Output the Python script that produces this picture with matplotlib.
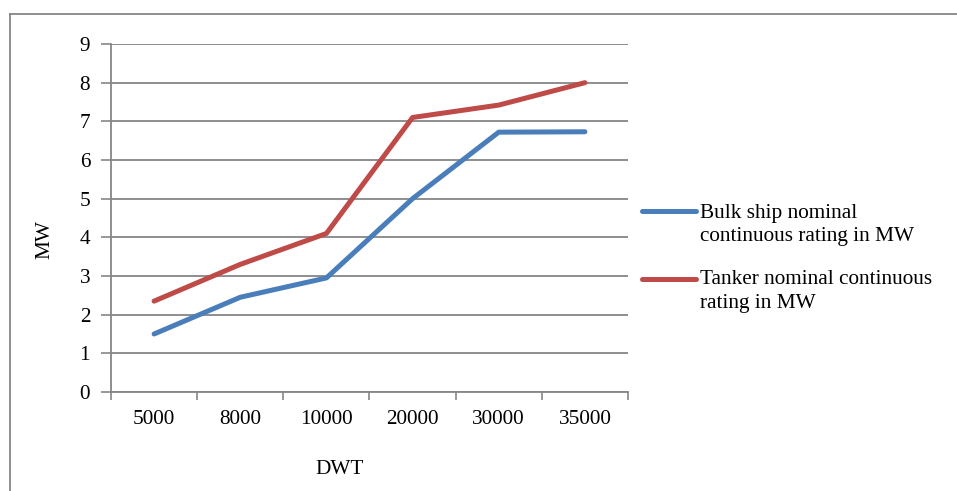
import matplotlib
matplotlib.use("Agg")
import matplotlib.pyplot as plt
from matplotlib.lines import Line2D
import numpy as np

plt.rcParams["font.family"] = ["Liberation Serif", "DejaVu Serif"]

categories = ["5000", "8000", "10000", "20000", "30000", "35000"]
bulk_mw = [1.5, 2.45, 2.95, 5.0, 6.72, 6.73]
tanker_mw = [2.35, 3.3, 4.1, 7.1, 7.42, 8.0]
series_labels = ["Bulk ship nominal\ncontinuous rating in MW",
                 "Tanker nominal continuous\nrating in MW"]
y_ticks = list(range(0, 10))

blue = "#4A7EBB"
red = "#BE4B48"
grid_gray = "#868686"
fs = 15.3

fig = plt.figure(figsize=(9.57, 4.91), dpi=100)
W, H = 957, 491
ax = fig.add_axes([111 / W, 1 - 392 / H, (628 - 111) / W, (392 - 44) / H])

x = np.arange(len(categories))
for vals, col in ((bulk_mw, blue), (tanker_mw, red)):
    ax.plot(x, vals, color=col, lw=3.6, solid_capstyle="round", solid_joinstyle="round")

ax.set_xlim(-0.5, len(categories) - 0.5)
ax.set_ylim(0, 9)
ax.set_yticks(y_ticks)
ax.yaxis.grid(True, color=grid_gray, lw=1.3)
ax.set_axisbelow(True)

# category boundaries carry the tick marks, labels sit at the centres
ax.set_xticks(np.arange(-0.5, len(categories), 1.0))
ax.set_xticklabels([])
ax.set_xticks(x, minor=True)
ax.set_xticklabels(categories, minor=True)
ax.tick_params(axis="x", which="major", length=6, width=1.2, color=grid_gray, direction="out")
ax.tick_params(axis="x", which="minor", length=0, pad=13, labelsize=fs)
ax.tick_params(axis="y", length=7, width=1.2, color=grid_gray, direction="out", pad=8, labelsize=fs)

for side in ("top", "right"):
    ax.spines[side].set_visible(False)
for side in ("left", "bottom"):
    ax.spines[side].set_color(grid_gray)
    ax.spines[side].set_linewidth(1.3)

fig.text(45 / W, 1 - 240 / H, "MW", rotation=90, ha="center", va="center", fontsize=fs)
fig.text(340 / W, 1 - 470 / H, "DWT", ha="center", va="center", fontsize=fs)

# legend: handle lined up with the first line of each wrapped label
legend_rows = [(211, 225, blue, series_labels[0]), (279, 291.5, red, series_labels[1])]
for y_line, y_text, col, lab in legend_rows:
    fig.add_artist(Line2D([642 / W, 696 / W], [1 - y_line / H] * 2, transform=fig.transFigure,
                          color=col, lw=3.6, solid_capstyle="round"))
    fig.text(700 / W, 1 - y_text / H, lab, ha="left", va="center", fontsize=fs,
             linespacing=1.33)

# outer chart frame
fig.add_artist(Line2D([10 / W, 1], [1 - 14 / H, 1 - 14 / H], transform=fig.transFigure,
                      color=grid_gray, lw=1.3))
fig.add_artist(Line2D([10 / W, 10 / W], [0, 1 - 14 / H], transform=fig.transFigure,
                      color=grid_gray, lw=1.3))

fig.savefig("out.png", dpi=100)
